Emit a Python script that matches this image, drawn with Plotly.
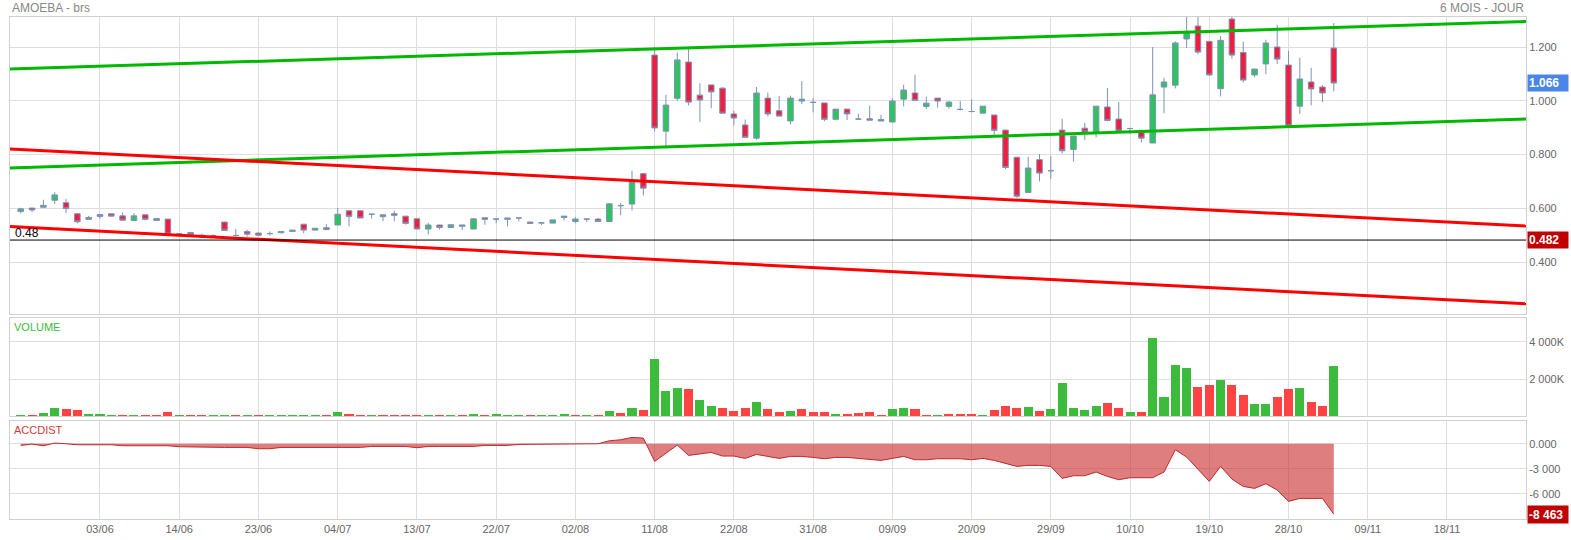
import pandas as pd
import plotly.graph_objects as go

# ---------------- data ----------------
title_left = "AMOEBA - brs"
title_right = "6 MOIS - JOUR"
start_date = "2016-05-25"
end_calendar = "2016-11-30"
market_holidays = ["2016-11-01"]

open_ = [0.588, 0.601, 0.604, 0.630, 0.621, 0.580, 0.559, 0.577, 0.580, 0.572,
         0.555, 0.576, 0.562, 0.560, 0.505, 0.510, 0.500, 0.498, 0.549, 0.499,
         0.514, 0.508, 0.506, 0.509, 0.514, 0.541, 0.519, 0.528, 0.538, 0.591,
         0.591, 0.578, 0.569, 0.580, 0.571, 0.561, 0.523, 0.538, 0.529, 0.533,
         0.523, 0.565, 0.560, 0.559, 0.564, 0.549, 0.546, 0.545, 0.566, 0.551,
         0.560, 0.560, 0.551, 0.610, 0.616, 0.729, 1.170, 0.887, 1.009, 1.144,
         1.021, 1.059, 1.047, 0.951, 0.910, 0.861, 1.010, 0.963, 0.925, 0.999,
         0.994, 0.992, 0.931, 0.969, 0.932, 0.933, 0.930, 0.921, 1.006, 1.029,
         0.979, 1.010, 0.979, 0.968, 0.960, 0.954, 0.947, 0.891, 0.790, 0.659,
         0.781, 0.740, 0.891, 0.819, 0.898, 0.884, 0.977, 0.932, 0.897, 0.888,
         0.843, 1.051, 1.058, 1.230, 1.278, 1.221, 1.045, 1.304, 1.180, 1.096,
         1.137, 1.200, 1.133, 0.980, 1.070, 1.051, 1.196]
high = [0.602, 0.601, 0.632, 0.660, 0.635, 0.580, 0.572, 0.579, 0.580, 0.585,
        0.582, 0.576, 0.565, 0.560, 0.508, 0.513, 0.506, 0.504, 0.549, 0.523,
        0.520, 0.510, 0.514, 0.514, 0.519, 0.541, 0.526, 0.541, 0.601, 0.591,
        0.591, 0.579, 0.578, 0.591, 0.571, 0.561, 0.546, 0.538, 0.540, 0.538,
        0.564, 0.565, 0.561, 0.564, 0.565, 0.549, 0.547, 0.557, 0.571, 0.567,
        0.561, 0.564, 0.617, 0.620, 0.740, 0.732, 1.200, 1.022, 1.180, 1.193,
        1.065, 1.059, 1.051, 0.963, 0.930, 1.051, 1.030, 1.018, 1.019, 1.073,
        1.010, 0.992, 0.969, 0.969, 0.952, 0.982, 0.947, 1.010, 1.060, 1.097,
        1.015, 1.010, 0.999, 0.999, 1.006, 0.980, 0.947, 0.891, 0.790, 0.792,
        0.802, 0.795, 0.933, 0.869, 0.918, 0.980, 1.048, 0.996, 0.899, 0.888,
        1.200, 1.085, 1.221, 1.320, 1.320, 1.221, 1.240, 1.320, 1.220, 1.118,
        1.227, 1.283, 1.186, 1.160, 1.123, 1.058, 1.289]
low = [0.581, 0.586, 0.604, 0.616, 0.582, 0.544, 0.559, 0.562, 0.571, 0.556,
       0.555, 0.555, 0.553, 0.504, 0.500, 0.502, 0.489, 0.490, 0.518, 0.495,
       0.495, 0.498, 0.499, 0.507, 0.514, 0.507, 0.519, 0.519, 0.538, 0.533,
       0.564, 0.562, 0.552, 0.552, 0.539, 0.523, 0.503, 0.521, 0.527, 0.519,
       0.523, 0.539, 0.545, 0.533, 0.552, 0.544, 0.538, 0.545, 0.555, 0.545,
       0.549, 0.551, 0.551, 0.574, 0.592, 0.648, 0.886, 0.824, 1.000, 0.983,
       0.921, 0.972, 0.954, 0.908, 0.864, 0.855, 0.942, 0.943, 0.912, 0.988,
       0.957, 0.924, 0.927, 0.928, 0.930, 0.928, 0.925, 0.921, 0.979, 1.001,
       0.970, 0.975, 0.970, 0.964, 0.957, 0.954, 0.874, 0.746, 0.639, 0.659,
       0.700, 0.709, 0.804, 0.774, 0.853, 0.864, 0.923, 0.888, 0.877, 0.845,
       0.843, 0.954, 1.046, 1.196, 1.173, 1.093, 1.016, 1.156, 1.068, 1.087,
       1.099, 1.137, 0.907, 0.951, 0.983, 0.995, 1.035]
close = [0.598, 0.594, 0.611, 0.650, 0.599, 0.550, 0.566, 0.570, 0.571, 0.556,
         0.572, 0.559, 0.555, 0.504, 0.505, 0.502, 0.497, 0.498, 0.518, 0.499,
         0.504, 0.500, 0.506, 0.514, 0.519, 0.519, 0.526, 0.521, 0.578, 0.570,
         0.564, 0.578, 0.576, 0.574, 0.544, 0.523, 0.538, 0.529, 0.539, 0.538,
         0.561, 0.559, 0.560, 0.564, 0.564, 0.544, 0.546, 0.557, 0.571, 0.560,
         0.560, 0.551, 0.617, 0.610, 0.700, 0.675, 0.899, 0.984, 1.152, 0.995,
         1.003, 1.033, 0.954, 0.936, 0.864, 1.029, 0.951, 0.943, 1.010, 1.006,
         0.994, 0.931, 0.969, 0.951, 0.932, 0.928, 0.925, 0.999, 1.040, 1.001,
         0.991, 0.999, 0.995, 0.968, 0.960, 0.980, 0.890, 0.752, 0.645, 0.750,
         0.731, 0.740, 0.814, 0.869, 0.884, 0.980, 0.927, 0.888, 0.897, 0.861,
         1.022, 1.070, 1.215, 1.258, 1.181, 1.096, 1.225, 1.170, 1.077, 1.118,
         1.215, 1.155, 0.907, 1.081, 1.044, 1.029, 1.066]
volume_k = [70, 70, 170, 450, 400, 345, 115, 115, 70, 60,
            60, 60, 60, 240, 60, 60, 60, 60, 60, 60,
            60, 60, 60, 60, 60, 60, 60, 60, 240, 130,
            60, 60, 60, 60, 60, 60, 70, 60, 60, 60,
            130, 60, 100, 60, 60, 70, 60, 60, 110, 60,
            60, 60, 310, 200, 430, 360, 3050, 1335, 1494, 1441,
            875, 557, 469, 292, 433, 751, 380, 256, 292, 398,
            239, 239, 133, 115, 168, 221, 97, 380, 469, 398,
            97, 80, 115, 115, 150, 97, 362, 539, 433, 522,
            292, 398, 1794, 451, 327, 539, 716, 433, 239, 256,
            4217, 1052, 2750, 2608, 1582, 1671, 1936, 1688, 1140, 681,
            681, 1017, 1441, 1512, 751, 557, 2679]
accdist = [-200, -40, -240, 80, 0, -120, -120, -120, -120, -240,
           -240, -240, -240, -240, -360, -400, -440, -440, -440, -440,
           -440, -600, -600, -440, -440, -440, -440, -440, -440, -440,
           -440, -320, -320, -320, -320, -480, -320, -320, -320, -320,
           -320, -200, -200, -200, -80, -80, -80, -80, -80, 0,
           0, 0, 360, 480, 760, 680, -2120, -1120, -160, -1400,
           -1240, -1040, -1480, -1480, -1760, -1280, -1520, -1760, -1520, -1520,
           -1640, -1800, -1640, -1640, -1760, -1880, -2000, -1760, -1520, -1920,
           -1920, -1800, -1800, -1800, -1920, -1760, -2000, -2320, -2720, -2600,
           -2600, -2720, -4160, -3840, -3840, -3400, -3920, -4320, -4080, -4080,
           -4080, -3400, -720, -1600, -3000, -4520, -2720, -4240, -5120, -5360,
           -4800, -5560, -6920, -6560, -6560, -6560, -8463]

tick_labels = ["03/06", "14/06", "23/06", "04/07", "13/07", "22/07", "02/08",
               "11/08", "22/08", "31/08", "09/09", "20/09", "29/09", "10/10",
               "19/10", "28/10", "09/11", "18/11"]

# trend lines (value at left edge, value at right edge of the chart)
green_upper = [1.118, 1.295]
green_lower = [0.750, 0.932]
red_upper = [0.821, 0.534]
red_lower = [0.532, 0.245]
support_level = 0.482
last_price = close[-1]
last_accdist = accdist[-1]

price_ticks = [0.4, 0.6, 0.8, 1.0, 1.2]
price_ticktext = ["0.400", "0.600", "0.800", "1.000", "1.200"]
vol_ticks = [2000, 4000]
vol_ticktext = ["2 000K", "4 000K"]
acc_ticks = [0, -3000, -6000]
acc_ticktext = ["0.000", "-3 000", "-6 000"]

# ---------------- positions ----------------
cal = pd.offsets.CustomBusinessDay(holidays=market_holidays)
days = pd.date_range(start_date, end_calendar, freq=cal)
day_labels = [d.strftime("%d/%m") for d in days]
tick_pos = [day_labels.index(t) for t in tick_labels]
n = len(close)
xs = list(range(n))
x_range = [-0.95, 132.98]

vol_colors = ["#3dbb3d"] + [
    "#3dbb3d" if close[i] >= close[i - 1] else "#ff4242" for i in range(1, n)
]

FONT = "Liberation Sans, Arial, sans-serif"
GRID = "#dedede"
BORDER = "#d0d0d0"
TICKF = dict(family=FONT, size=11, color="#666666")

fig = go.Figure()

fig.add_trace(go.Candlestick(
    x=xs, open=open_, high=high, low=low, close=close,
    xaxis="x", yaxis="y",
    increasing=dict(fillcolor="#2dc45b", line=dict(color="#7b93b6", width=1)),
    decreasing=dict(fillcolor="#f21d3e", line=dict(color="#7b93b6", width=1)),
    whiskerwidth=0, showlegend=False, hoverinfo="skip",
))

for vals, col in [(green_upper, "#00b800"), (green_lower, "#00b800"),
                  (red_upper, "#ff0000"), (red_lower, "#ff0000")]:
    fig.add_trace(go.Scatter(x=x_range, y=vals, mode="lines", xaxis="x", yaxis="y",
                             line=dict(color=col, width=3), showlegend=False,
                             hoverinfo="skip"))

fig.add_trace(go.Scatter(x=x_range, y=[support_level, support_level], mode="lines",
                         xaxis="x", yaxis="y", line=dict(color="#000000", width=1),
                         showlegend=False, hoverinfo="skip"))

fig.add_trace(go.Bar(x=xs, y=volume_k, xaxis="x2", yaxis="y2", width=0.8,
                     marker=dict(color=vol_colors, line=dict(width=0)),
                     showlegend=False, hoverinfo="skip"))

fig.add_trace(go.Scatter(x=xs, y=accdist, xaxis="x3", yaxis="y3", mode="lines",
                         fill="tozeroy", fillcolor="rgba(200,40,40,0.6)",
                         line=dict(color="#c0282d", width=1),
                         showlegend=False, hoverinfo="skip"))

xcommon = dict(range=x_range, tickvals=tick_pos, ticktext=tick_labels,
               showgrid=True, gridcolor=GRID, gridwidth=1, zeroline=False,
               showline=True, mirror=True, linecolor=BORDER, linewidth=1,
               ticks="", tickfont=TICKF, fixedrange=True, automargin=False)
ycommon = dict(side="right", showgrid=True, gridcolor=GRID, gridwidth=1,
               zeroline=False, showline=True, mirror=True, linecolor=BORDER,
               linewidth=1, ticks="", tickfont=TICKF, fixedrange=True,
               automargin=False)

fig.update_layout(
    width=1571, height=540,
    margin=dict(l=10, r=45, t=17, b=21, autoexpand=False),
    paper_bgcolor="white", plot_bgcolor="white",
    font=dict(family=FONT),
    showlegend=False,
    bargap=0,
    hovermode=False,
    xaxis=dict(**xcommon, domain=[0, 1], anchor="y", showticklabels=False,
               rangeslider=dict(visible=False)),
    xaxis2=dict(**xcommon, domain=[0, 1], anchor="y2", showticklabels=False),
    xaxis3=dict(**xcommon, domain=[0, 1], anchor="y3", showticklabels=True),
    yaxis=dict(**ycommon, domain=[0.4087, 1.0], anchor="x",
               range=[0.2076, 1.3116], tickvals=price_ticks, ticktext=price_ticktext),
    yaxis2=dict(**ycommon, domain=[0.2043, 0.4002], anchor="x2",
                range=[0, 5260], tickvals=vol_ticks, ticktext=vol_ticktext),
    yaxis3=dict(**ycommon, domain=[0, 0.1943], anchor="x3",
                range=[-9036, 2676], tickvals=acc_ticks, ticktext=acc_ticktext),
)

ann = []
ann.append(dict(text=title_left, xref="paper", yref="paper", x=0, y=1,
                xanchor="left", yanchor="bottom", showarrow=False, yshift=0,
                font=dict(family=FONT, size=12, color="#888888")))
ann.append(dict(text=title_right, xref="paper", yref="paper", x=1, y=1,
                xanchor="right", yanchor="bottom", showarrow=False,
                font=dict(family=FONT, size=12, color="#888888")))
ann.append(dict(text="VOLUME", xref="paper", yref="paper", x=0, y=0.4002,
                xanchor="left", yanchor="top", showarrow=False, xshift=2, yshift=-1,
                font=dict(family=FONT, size=11, color="#3cb93c")))
ann.append(dict(text="ACCDIST", xref="paper", yref="paper", x=0, y=0.1943,
                xanchor="left", yanchor="top", showarrow=False, xshift=2, yshift=-1,
                font=dict(family=FONT, size=11, color="#d03c3c")))
ann.append(dict(text=f"{support_level:.2f}", xref="paper", yref="y", x=0,
                y=support_level, xanchor="left", yanchor="bottom", showarrow=False,
                xshift=3, yshift=-2, font=dict(family=FONT, size=12, color="#000000")))
ann.append(dict(text=f"<b>{last_price:.3f}</b>", xref="paper", yref="y", x=1,
                y=last_price, xanchor="left", yanchor="middle", showarrow=False,
                xshift=1, width=38, height=14, align="left", bgcolor="#4a86e8",
                borderpad=1, font=dict(family=FONT, size=12, color="#ffffff")))
ann.append(dict(text=f"<b>{support_level:.3f}</b>", xref="paper", yref="y", x=1,
                y=support_level, xanchor="left", yanchor="middle", showarrow=False,
                xshift=1, width=38, height=14, align="left", bgcolor="#c00000",
                borderpad=1, font=dict(family=FONT, size=12, color="#ffffff")))
acc_txt = f"{last_accdist:,}".replace(",", " ")
ann.append(dict(text=f"<b>{acc_txt}</b>", xref="paper", yref="y3", x=1,
                y=last_accdist, xanchor="left", yanchor="middle", showarrow=False,
                xshift=1, width=38, height=15, align="left", bgcolor="#c00000",
                borderpad=1, font=dict(family=FONT, size=12, color="#ffffff")))
fig.update_layout(annotations=ann)

fig.write_html("out.html",
               config={"displayModeBar": False},
               post_script="document.body.style.margin='0';"
                           "document.body.style.overflow='hidden';")
